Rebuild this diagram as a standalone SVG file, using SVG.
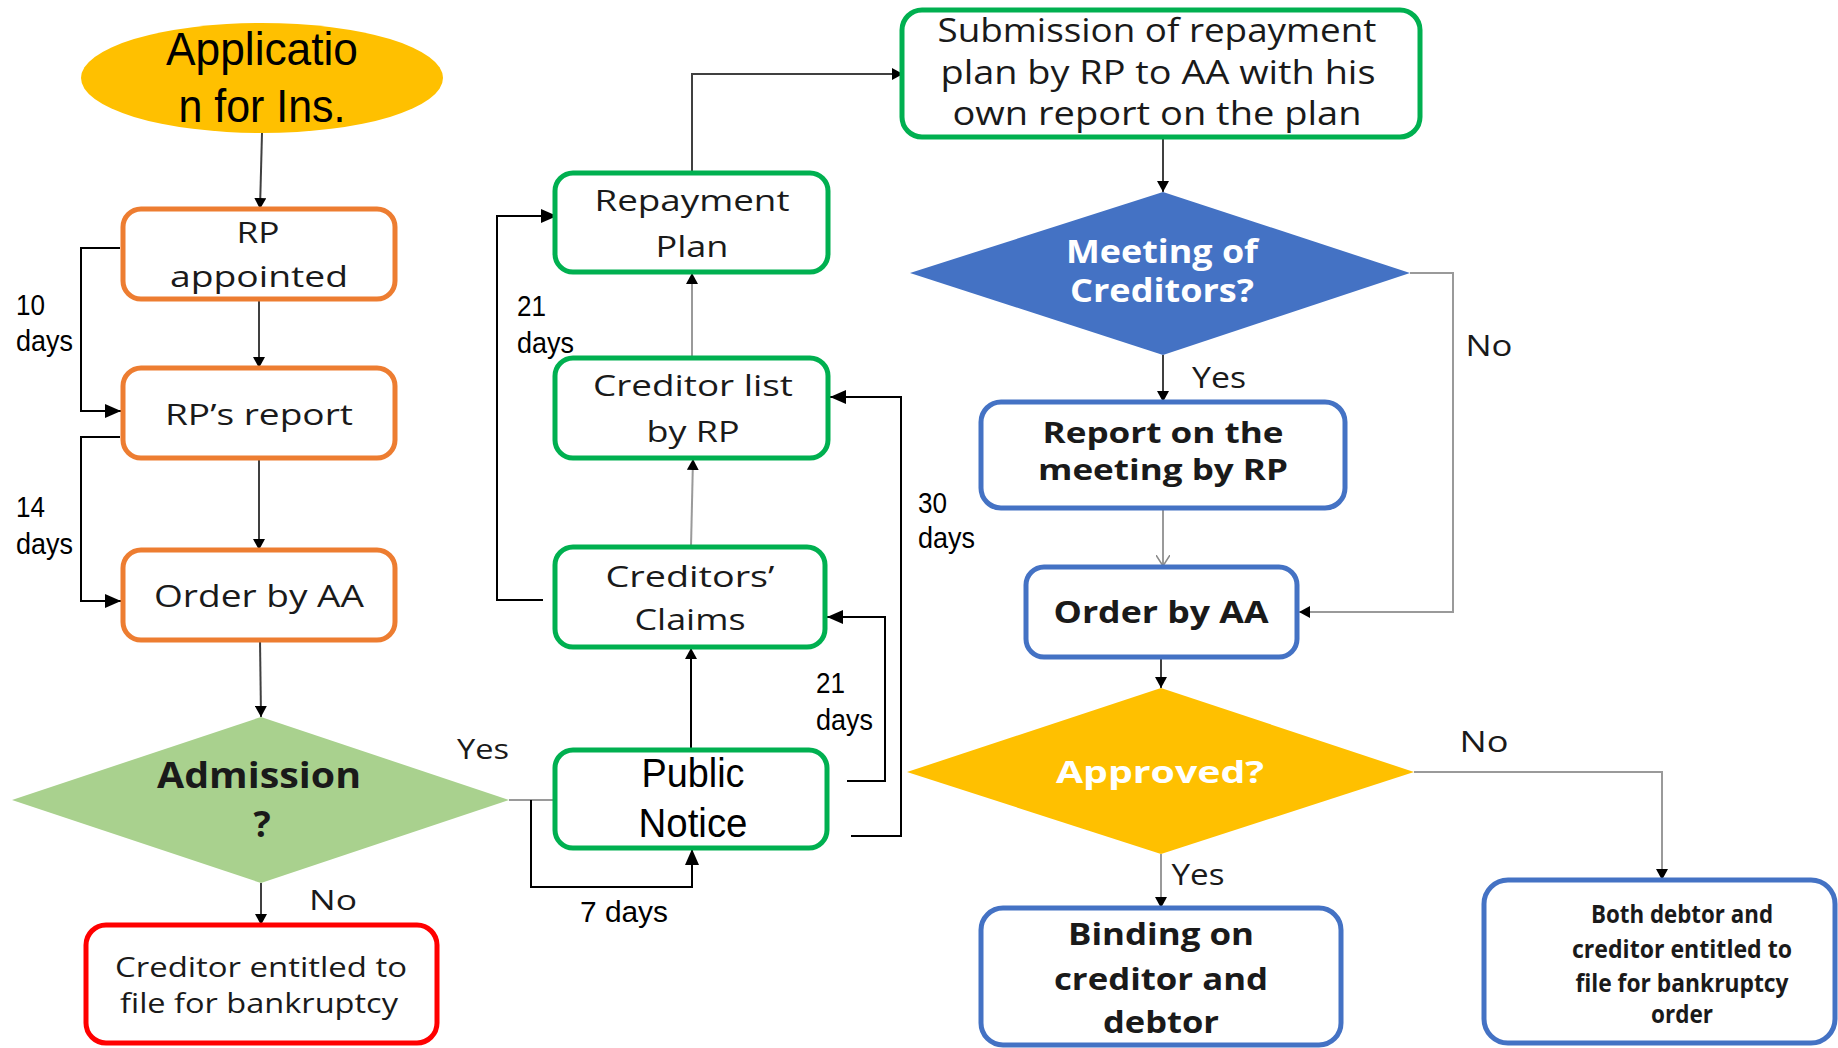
<svg xmlns="http://www.w3.org/2000/svg" width="1838" height="1048" viewBox="0 0 1838 1048">
<style>
.box{fill:#fff;stroke-width:5}
.or{stroke:#ED7D31}.gr{stroke:#00B050}.bl{stroke:#4472C4}.rd{stroke:#FF0000}
.t{font-family:"Open Sans","Liberation Sans",sans-serif;fill:#1a1a1a;text-anchor:middle}
.b{font-weight:700}
.w{fill:#fff}
.lab{font-family:"Liberation Sans",Arial,sans-serif;fill:#000}
.d{font-size:29px}
.c{fill:none;stroke:#000;stroke-width:2}
.cg{fill:none;stroke:#9a9a9a;stroke-width:2}
.cd{fill:none;stroke:#404040;stroke-width:2}
</style>
<defs>
<marker id="big" markerUnits="userSpaceOnUse" markerWidth="16" markerHeight="14" refX="16" refY="7" orient="auto"><path d="M0,0 L16,7 L0,14 z" fill="#000"/></marker>
<marker id="sm" markerUnits="userSpaceOnUse" markerWidth="11" markerHeight="12" refX="11" refY="6" orient="auto"><path d="M0,0 L11,6 L0,12 z" fill="#000"/></marker>
<marker id="open" markerUnits="userSpaceOnUse" markerWidth="12" markerHeight="14" refX="11" refY="7" orient="auto"><path d="M0,0 L11,7 L0,14" fill="none" stroke="#8a8a8a" stroke-width="1.5"/></marker>
</defs>

<g id="connectors">
<path class="cd" d="M262,133 L260,209" marker-end="url(#sm)"/>
<path class="cd" d="M259,299 V368" marker-end="url(#sm)"/>
<path class="cd" d="M259,458 V550" marker-end="url(#sm)"/>
<path class="cd" d="M260,640 L261,717" marker-end="url(#sm)"/>
<path class="cd" d="M261,883 V925" marker-end="url(#sm)"/>
<path class="c" d="M120,248 H81 V411 H121" marker-end="url(#big)"/>
<path class="c" d="M120,437 H81 V601 H121" marker-end="url(#big)"/>
<path class="cg" d="M509,800 H555"/>
<path class="c" d="M531,800 V887 H692 V849" marker-end="url(#big)"/>
<path class="c" d="M691,750 V648" marker-end="url(#sm)"/>
<path class="c" d="M847,781 H885 V617 H827" marker-end="url(#big)"/>
<path class="c" d="M851,836 H901 V397 H830" marker-end="url(#big)"/>
<path class="cg" d="M691,547 L693,459" marker-end="url(#sm)"/>
<path class="cg" d="M692,358 V273" marker-end="url(#sm)"/>
<path class="c" d="M543,600 H497 V216 H557" marker-end="url(#big)"/>
<path class="cd" d="M692,173 V74 H903" marker-end="url(#sm)"/>
<path class="cd" d="M1163,137 V192" marker-end="url(#sm)"/>
<path class="cd" d="M1163,355 V402" marker-end="url(#sm)"/>
<path class="cg" d="M1410,273 H1453 V612 H1299" marker-end="url(#sm)"/>
<path class="cg" d="M1163,508 V566" marker-end="url(#open)"/>
<path class="cd" d="M1161,657 V688" marker-end="url(#sm)"/>
<path class="cg" d="M1161,854 V908" marker-end="url(#sm)"/>
<path class="cg" d="M1414,772 H1662 V880" marker-end="url(#sm)"/>
</g>

<g id="application">
<ellipse cx="262" cy="78" rx="181" ry="55" fill="#FFC000"/>
<text class="lab" x="262" y="65" style="font-size:46px" text-anchor="middle" textLength="192" lengthAdjust="spacingAndGlyphs">Applicatio</text>
<text class="lab" x="262" y="122" style="font-size:46px" text-anchor="middle" textLength="167" lengthAdjust="spacingAndGlyphs">n for Ins.</text>
</g>

<g id="rp-appointed">
<rect class="box or" x="123" y="209" width="272" height="90" rx="18"/>
<text class="t" x="258" y="243" font-size="30" textLength="43" lengthAdjust="spacingAndGlyphs">RP</text>
<text class="t" x="259" y="287" font-size="30" textLength="178" lengthAdjust="spacingAndGlyphs">appointed</text>
</g>

<g id="rp-report">
<rect class="box or" x="123" y="368" width="272" height="90" rx="18"/>
<text class="t" x="259" y="425" font-size="30" textLength="188" lengthAdjust="spacingAndGlyphs">RP’s report</text>
</g>

<g id="order-aa-1">
<rect class="box or" x="123" y="550" width="272" height="90" rx="18"/>
<text class="t" x="259" y="607" font-size="31" textLength="210" lengthAdjust="spacingAndGlyphs">Order by AA</text>
</g>

<g id="admission">
<polygon points="12,800 261,717 509,800 261,883" fill="#A9D18E"/>
<text class="t b" x="259" y="788" font-size="36" fill="#111" textLength="204" lengthAdjust="spacingAndGlyphs">Admission</text>
<text class="t b" x="262" y="837" font-size="36" fill="#111">?</text>
</g>

<g id="creditor-entitled">
<rect class="box rd" x="86" y="925" width="351" height="118" rx="20"/>
<text class="t" x="261" y="977" font-size="27" textLength="292" lengthAdjust="spacingAndGlyphs">Creditor entitled to</text>
<text class="t" x="259" y="1013" font-size="27" textLength="278" lengthAdjust="spacingAndGlyphs">file for bankruptcy</text>
</g>

<g id="public-notice">
<rect class="box gr" x="555" y="750" width="272" height="98" rx="18"/>
<text class="lab" x="693" y="787" style="font-size:40px" text-anchor="middle" textLength="103" lengthAdjust="spacingAndGlyphs">Public</text>
<text class="lab" x="693" y="837" style="font-size:40px" text-anchor="middle" textLength="109" lengthAdjust="spacingAndGlyphs">Notice</text>
</g>

<g id="creditors-claims">
<rect class="box gr" x="555" y="547" width="270" height="100" rx="18"/>
<text class="t" x="690" y="587" font-size="30" textLength="169" lengthAdjust="spacingAndGlyphs">Creditors’</text>
<text class="t" x="690" y="630" font-size="30" textLength="111" lengthAdjust="spacingAndGlyphs">Claims</text>
</g>

<g id="creditor-list">
<rect class="box gr" x="555" y="358" width="273" height="100" rx="18"/>
<text class="t" x="693" y="396" font-size="30" textLength="200" lengthAdjust="spacingAndGlyphs">Creditor list</text>
<text class="t" x="693" y="442" font-size="30" textLength="93" lengthAdjust="spacingAndGlyphs">by RP</text>
</g>

<g id="repayment-plan">
<rect class="box gr" x="555" y="173" width="273" height="99" rx="18"/>
<text class="t" x="692" y="211" font-size="30" textLength="195" lengthAdjust="spacingAndGlyphs">Repayment</text>
<text class="t" x="692" y="257" font-size="30" textLength="73" lengthAdjust="spacingAndGlyphs">Plan</text>
</g>

<g id="submission">
<rect class="box gr" x="902" y="10" width="518" height="127" rx="20"/>
<text class="t" x="1157" y="42" font-size="33" textLength="439" lengthAdjust="spacingAndGlyphs">Submission of repayment</text>
<text class="t" x="1158" y="84" font-size="33" textLength="435" lengthAdjust="spacingAndGlyphs">plan by RP to AA with his</text>
<text class="t" x="1157" y="125" font-size="33" textLength="409" lengthAdjust="spacingAndGlyphs">own report on the plan</text>
</g>

<g id="meeting">
<polygon points="910,273 1163,192 1410,273 1163,355" fill="#4472C4"/>
<text class="t b w" x="1162" y="263" font-size="32" textLength="192" lengthAdjust="spacingAndGlyphs">Meeting of</text>
<text class="t b w" x="1162" y="302" font-size="32" textLength="184" lengthAdjust="spacingAndGlyphs">Creditors?</text>
</g>

<g id="report-meeting">
<rect class="box bl" x="981" y="402" width="364" height="106" rx="20"/>
<text class="t b" x="1163" y="443" font-size="29" fill="#111" textLength="241" lengthAdjust="spacingAndGlyphs">Report on the</text>
<text class="t b" x="1163" y="480" font-size="29" fill="#111" textLength="250" lengthAdjust="spacingAndGlyphs">meeting by RP</text>
</g>

<g id="order-aa-2">
<rect class="box bl" x="1026" y="567" width="271" height="90" rx="18"/>
<text class="t b" x="1161" y="623" font-size="30" fill="#111" textLength="215" lengthAdjust="spacingAndGlyphs">Order by AA</text>
</g>

<g id="approved">
<polygon points="907,772 1161,688 1414,772 1161,854" fill="#FFC000"/>
<text class="t b w" x="1160" y="783" font-size="31" textLength="208" lengthAdjust="spacingAndGlyphs">Approved?</text>
</g>

<g id="binding">
<rect class="box bl" x="981" y="908" width="360" height="137" rx="22"/>
<text class="t b" x="1161" y="945" font-size="31" fill="#111" textLength="186" lengthAdjust="spacingAndGlyphs">Binding on</text>
<text class="t b" x="1161" y="990" font-size="31" fill="#111" textLength="214" lengthAdjust="spacingAndGlyphs">creditor and</text>
<text class="t b" x="1161" y="1033" font-size="31" fill="#111" textLength="116" lengthAdjust="spacingAndGlyphs">debtor</text>
</g>

<g id="both-entitled">
<rect class="box bl" x="1484" y="880" width="351" height="163" rx="24"/>
<text class="t b" x="1682" y="923" font-size="25" fill="#111" textLength="182" lengthAdjust="spacingAndGlyphs">Both debtor and</text>
<text class="t b" x="1682" y="958" font-size="25" fill="#111" textLength="220" lengthAdjust="spacingAndGlyphs">creditor entitled to</text>
<text class="t b" x="1682" y="992" font-size="25" fill="#111" textLength="213" lengthAdjust="spacingAndGlyphs">file for bankruptcy</text>
<text class="t b" x="1682" y="1023" font-size="25" fill="#111" textLength="62" lengthAdjust="spacingAndGlyphs">order</text>
</g>

<g id="labels">
<text class="lab d" x="16" y="315" textLength="29" lengthAdjust="spacingAndGlyphs">10</text>
<text class="lab d" x="16" y="351" textLength="57" lengthAdjust="spacingAndGlyphs">days</text>
<text class="lab d" x="16" y="517" textLength="29" lengthAdjust="spacingAndGlyphs">14</text>
<text class="lab d" x="16" y="554" textLength="57" lengthAdjust="spacingAndGlyphs">days</text>
<text class="lab d" x="517" y="316" textLength="29" lengthAdjust="spacingAndGlyphs">21</text>
<text class="lab d" x="517" y="353" textLength="57" lengthAdjust="spacingAndGlyphs">days</text>
<text class="lab d" x="816" y="693" textLength="29" lengthAdjust="spacingAndGlyphs">21</text>
<text class="lab d" x="816" y="730" textLength="57" lengthAdjust="spacingAndGlyphs">days</text>
<text class="lab d" x="918" y="513" textLength="29" lengthAdjust="spacingAndGlyphs">30</text>
<text class="lab d" x="918" y="548" textLength="57" lengthAdjust="spacingAndGlyphs">days</text>
<text class="lab d" x="580" y="922" textLength="88" lengthAdjust="spacingAndGlyphs">7  days</text>
<text class="t" x="483" y="759" font-size="27" textLength="52" lengthAdjust="spacingAndGlyphs">Yes</text>
<text class="t" x="333" y="910" font-size="28" textLength="48" lengthAdjust="spacingAndGlyphs">No</text>
<text class="t" x="1219" y="388" font-size="29" textLength="54" lengthAdjust="spacingAndGlyphs">Yes</text>
<text class="t" x="1489" y="356" font-size="30" textLength="47" lengthAdjust="spacingAndGlyphs">No</text>
<text class="t" x="1484" y="752" font-size="29" textLength="49" lengthAdjust="spacingAndGlyphs">No</text>
<text class="t" x="1198" y="885" font-size="29" textLength="53" lengthAdjust="spacingAndGlyphs">Yes</text>
</g>
</svg>
